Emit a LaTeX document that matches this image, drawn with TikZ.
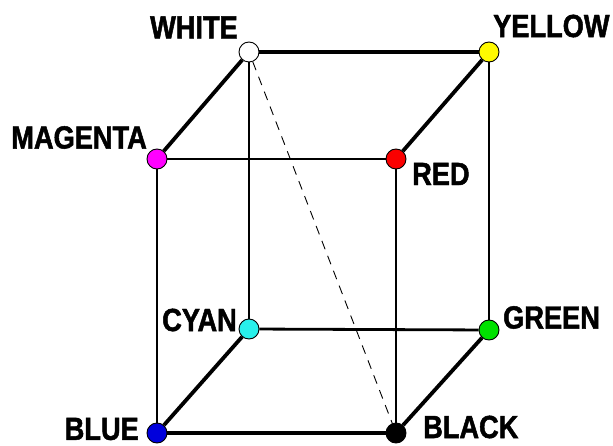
\documentclass[tikz,border=0pt]{standalone}
\usepackage{fontspec}
\setmainfont{Liberation Sans}[FakeStretch=0.85,BoldFeatures={FakeBold=1.5}]
\definecolor{cyanv}{RGB}{40,240,235}
\definecolor{greenv}{RGB}{0,225,0}
\definecolor{bluev}{RGB}{0,0,220}
\definecolor{yellowv}{RGB}{255,250,0}
\definecolor{magentav}{RGB}{255,0,255}
\definecolor{redv}{RGB}{250,0,0}
\begin{document}
\begin{tikzpicture}[x=1pt,y=-1pt,
  vertex/.style={circle,draw=black,line width=0.9pt,minimum size=20pt,inner sep=0pt},
  lab/.style={font=\bfseries\fontsize{32}{32}\selectfont,inner sep=0pt},
  heavy/.style={line width=3.8pt},
  medium/.style={line width=2.8pt},
  light/.style={line width=2.2pt},
  diag/.style={line width=0.9pt,dash pattern=on 9pt off 7pt}]
\useasboundingbox (0,0) rectangle (613,446);
\fill[white] (0,0) rectangle (613,446);
% vertices
\node[vertex,fill=white]    (W) at (249,52)  {};
\node[vertex,fill=yellowv]  (Y) at (489,52)  {};
\node[vertex,fill=magentav] (M) at (157,159) {};
\node[vertex,fill=redv]     (R) at (396,159) {};
\node[vertex,fill=cyanv]    (C) at (249,329) {};
\node[vertex,fill=greenv]   (G) at (489,330) {};
\node[vertex,fill=bluev]    (B) at (157,433) {};
\node[vertex,fill=black]    (K) at (396,433) {};
% edges
\draw[heavy] (W) -- (Y);
\draw[heavy] (W) -- (M);
\draw[heavy] (Y) -- (R);
\draw[medium] (M) -- (R);
\draw[light] (M) -- (B);
\draw[medium] (W) -- (C);
\draw[medium] (R) -- (K);
\draw[medium] (Y) -- (G);
\draw[medium] (C) -- (G);
\draw[heavy] (C) -- (B);
\draw[heavy] (G) -- (K);
\draw[heavy] (B) -- (K);
\draw[diag] (W) -- (K);
% labels
\node[lab,anchor=east] (lW) at (238,27.5) {WHITE};
\node[lab,anchor=west] (lY) at (493,26) {YELLOW};
\node[lab,anchor=east] (lM) at (147,137.5) {MAGENTA};
\node[lab,anchor=west] (lR) at (412,174) {RED};
\node[lab,anchor=east] (lC) at (237,320) {CYAN};
\node[lab,anchor=west] (lG) at (503,317.5) {GREEN};
\node[lab,anchor=east] (lB) at (139,429) {BLUE};
\node[lab,anchor=west] (lK) at (423,427) {BLACK};
\end{tikzpicture}
\end{document}
